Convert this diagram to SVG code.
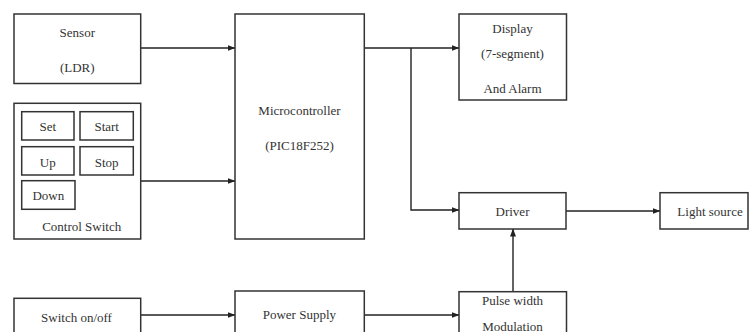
<svg xmlns="http://www.w3.org/2000/svg" width="750" height="332" viewBox="0 0 750 332">
<defs>
<style>
.box{fill:#fff;stroke:#333;stroke-width:1.5}
.t{font-family:"Liberation Serif","Times New Roman",serif;font-size:13px;fill:#333;text-anchor:middle}
.ln{fill:none;stroke:#222;stroke-width:1.4}
</style>
<marker id="ah" markerWidth="8" markerHeight="6" refX="7.5" refY="3" orient="auto" markerUnits="userSpaceOnUse">
<path d="M0,0 L8,3 L0,6 Z" fill="#222"/>
</marker>
</defs>
<rect width="750" height="332" fill="#fff"/>
<g id="connectors">
<line class="ln" x1="140.7" y1="48" x2="235" y2="48" marker-end="url(#ah)"/>
<line class="ln" x1="140.7" y1="181" x2="235" y2="181" marker-end="url(#ah)"/>
<line class="ln" x1="364.3" y1="48" x2="459" y2="48" marker-end="url(#ah)"/>
<polyline class="ln" points="411,48 411,210 459,210" marker-end="url(#ah)"/>
<line class="ln" x1="566" y1="211" x2="660" y2="211" marker-end="url(#ah)"/>
<line class="ln" x1="513" y1="291.7" x2="513" y2="229" marker-end="url(#ah)"/>
<line class="ln" x1="140.7" y1="315" x2="235" y2="315" marker-end="url(#ah)"/>
<line class="ln" x1="364.3" y1="315" x2="459" y2="315" marker-end="url(#ah)"/>
</g>
<g id="sensor">
<rect class="box" x="14" y="14" width="126.7" height="69.5"/>
<text class="t" x="77.3" y="37">Sensor</text>
<text class="t" x="77.3" y="72">(LDR)</text>
</g>
<g id="control-switch">
<rect class="box" x="14" y="103.3" width="126.7" height="135.7"/>
<text class="t" x="81.7" y="231">Control Switch</text>
</g>
<g id="btn-set">
<rect class="box" x="21.7" y="111.7" width="52.3" height="28.3"/>
<text class="t" x="47.8" y="131">Set</text>
</g>
<g id="btn-start">
<rect class="box" x="80" y="111.7" width="53.3" height="28.3"/>
<text class="t" x="106.7" y="131">Start</text>
</g>
<g id="btn-up">
<rect class="box" x="21.7" y="146.7" width="52.3" height="28.3"/>
<text class="t" x="47.8" y="167">Up</text>
</g>
<g id="btn-stop">
<rect class="box" x="80" y="146.7" width="53.3" height="28.3"/>
<text class="t" x="106.7" y="167">Stop</text>
</g>
<g id="btn-down">
<rect class="box" x="21.7" y="180.7" width="53.3" height="28.6"/>
<text class="t" x="48.3" y="200">Down</text>
</g>
<g id="microcontroller">
<rect class="box" x="235" y="14" width="129.3" height="225"/>
<text class="t" x="299.5" y="114.5">Microcontroller</text>
<text class="t" x="299.5" y="150">(PIC18F252)</text>
</g>
<g id="display">
<rect class="box" x="459" y="14" width="107.5" height="86"/>
<text class="t" x="512.5" y="32.5">Display</text>
<text class="t" x="512.5" y="57.5">(7-segment)</text>
<text class="t" x="512.5" y="92.5">And Alarm</text>
</g>
<g id="driver">
<rect class="box" x="459" y="192.7" width="107" height="36.3"/>
<text class="t" x="512.5" y="216">Driver</text>
</g>
<g id="light-source">
<rect class="box" x="660" y="192.7" width="88" height="36.3"/>
<text class="t" x="710" y="216">Light source</text>
</g>
<g id="switch-onoff">
<rect class="box" x="14" y="298.3" width="126.7" height="45"/>
<text class="t" x="76.5" y="321.8">Switch on/off</text>
</g>
<g id="power-supply">
<rect class="box" x="235" y="291" width="129.3" height="50"/>
<text class="t" x="299.4" y="318.5">Power Supply</text>
</g>
<g id="pwm">
<rect class="box" x="459" y="291.7" width="107.5" height="50"/>
<text class="t" x="512.5" y="305.2">Pulse width</text>
<text class="t" x="512.5" y="330.5">Modulation</text>
</g>
</svg>
